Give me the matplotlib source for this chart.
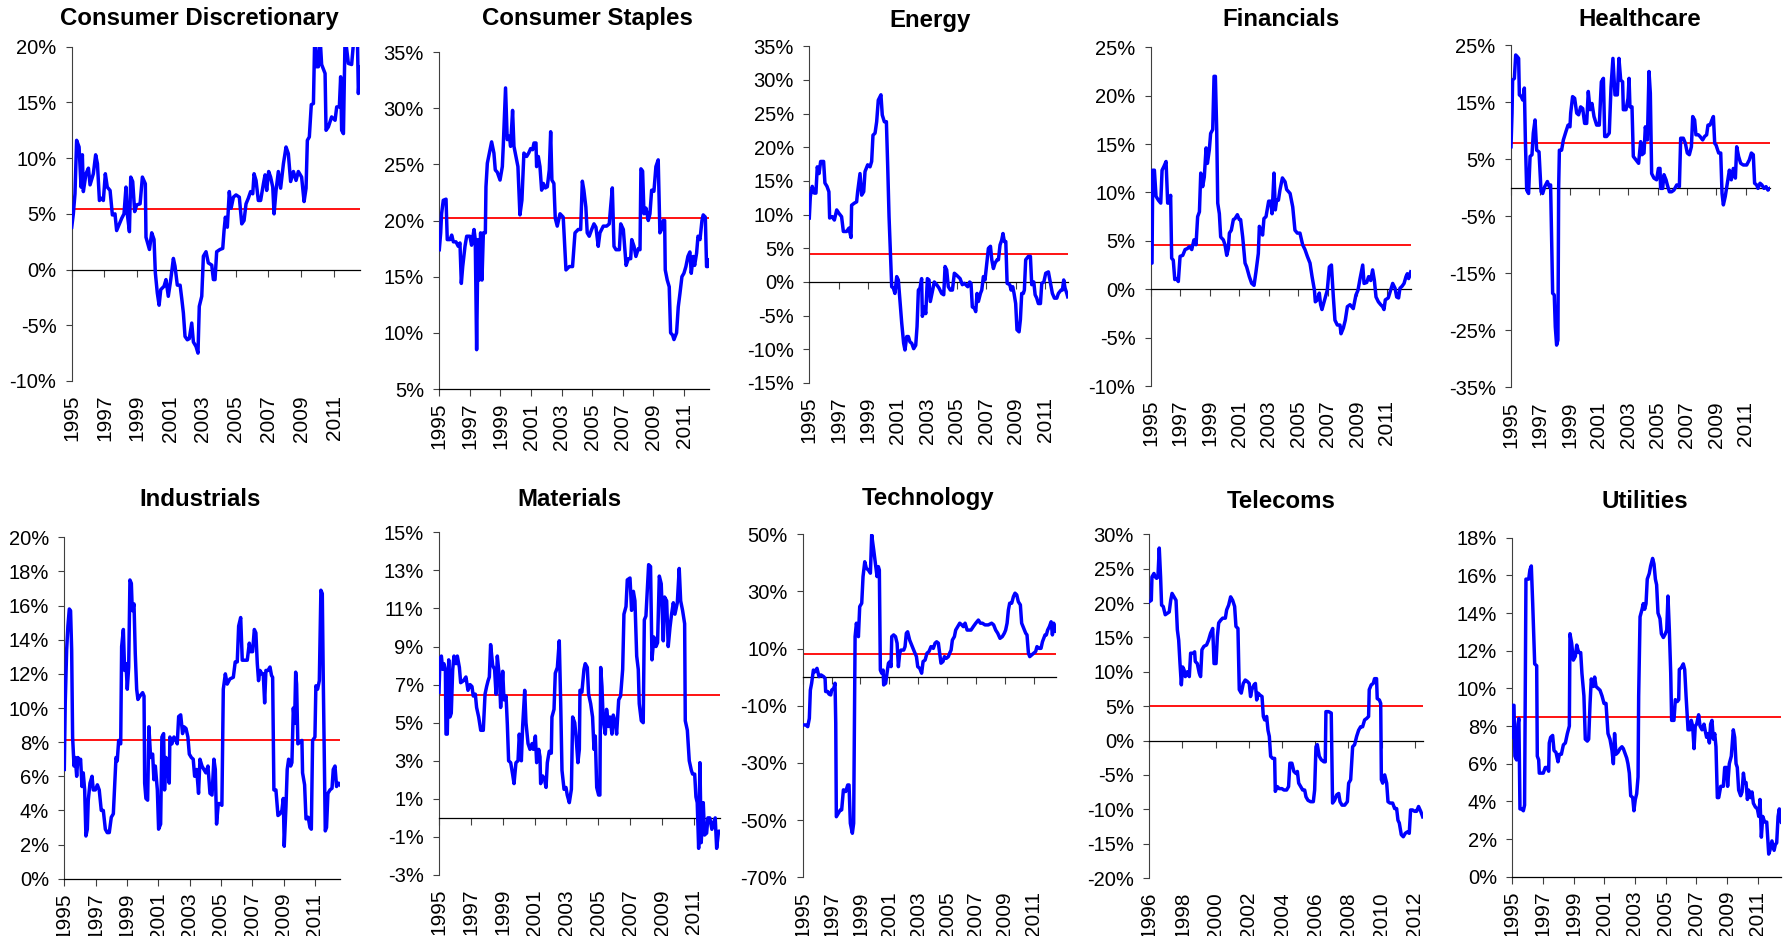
import numpy as np
import matplotlib
matplotlib.use("Agg")
from matplotlib import pyplot as plt
from matplotlib.ticker import FuncFormatter

plt.rcParams['font.family'] = ['Liberation Sans', 'DejaVu Sans']

# ---- data: time offsets (years from first year) and values (%) ----
cd_t = [0, 0.10, 0.20, 0.30, 0.45, 0.57, 0.65, 0.71, 0.87, 1.02, 1.12, 1.32, 1.46, 1.57, 1.69, 1.83, 1.93,
        2.05, 2.17, 2.34, 2.48, 2.64, 2.74, 2.91, 3.05, 3.19, 3.31, 3.39, 3.52, 3.60, 3.72, 3.84, 3.96,
        4.17, 4.31, 4.49, 4.53, 4.74, 4.88, 5.02, 5.10, 5.22, 5.33, 5.43, 5.63, 5.75, 5.89, 6.04, 6.20,
        6.30, 6.44, 6.61, 6.71, 6.81, 6.91, 7.05, 7.17, 7.32, 7.42, 7.58, 7.70, 7.78, 7.93, 8.03, 8.19,
        8.33, 8.54, 8.64, 8.74, 8.84, 9.04, 9.21, 9.29, 9.37, 9.49, 9.61, 9.72, 9.86, 10.02, 10.22, 10.37,
        10.51, 10.63, 10.77, 10.91, 11.04, 11.12, 11.24, 11.38, 11.52, 11.69, 11.79, 11.89, 12.01, 12.13,
        12.26, 12.34, 12.46, 12.60, 12.74, 12.91, 13.07, 13.21, 13.35, 13.52, 13.68, 13.82, 14.02, 14.17,
        14.29, 14.37, 14.49, 14.61, 14.74, 14.82, 14.94, 15.04, 15.14, 15.24, 15.45, 15.51, 15.65, 15.85,
        16.06, 16.16, 16.32, 16.40, 16.46, 16.57, 16.67, 16.87, 17.07, 17.22, 17.42, 17.48, 17.58]
cd_v = [3.8, 5.0, 6.8, 11.6, 11.0, 7.4, 10.3, 7.0, 8.6, 9.1, 7.6, 8.6, 10.3, 9.5, 6.2, 6.4, 6.2,
        8.6, 7.4, 7.1, 4.9, 5.0, 3.5, 4.1, 4.6, 5.0, 7.4, 5.0, 3.4, 8.3, 7.9, 5.2, 5.8,
        5.9, 8.3, 7.7, 2.9, 1.8, 3.3, 2.7, -0.3, -2.1, -3.2, -1.8, -1.5, -0.9, -2.4, -0.9, 1.0,
        0.3, -1.4, -1.4, -2.6, -3.9, -6.0, -6.3, -6.2, -4.8, -6.5, -6.9, -7.5, -3.3, -2.4, 1.2, 1.6,
        0.6, 0.4, -0.9, -0.9, 1.6, 1.8, 1.9, 3.5, 4.7, 3.8, 7.0, 5.5, 6.5, 6.7, 6.5, 4.1,
        4.4, 5.9, 6.4, 7.0, 6.8, 8.6, 8.0, 6.2, 6.2, 7.7, 8.5, 7.1, 8.8, 8.3,
        7.4, 5.0, 7.1, 8.8, 7.3, 9.5, 11.0, 10.4, 7.9, 8.8, 8.0, 8.8, 8.3, 6.1,
        7.3, 11.6, 11.9, 14.8, 14.9, 21.0, 18.2, 18.2, 21.0, 18.4, 17.6, 12.5, 12.8, 13.7,
        13.4, 14.6, 14.6, 17.3, 12.5, 12.2, 21.0, 18.5, 18.4, 21.0, 21.0, 15.8, 18.2]

cs_t = [0, 0.09, 0.15, 0.26, 0.44, 0.52, 0.70, 0.81, 0.92, 1.09, 1.24, 1.35, 1.44, 1.53, 1.68, 1.79, 2.00,
        2.11, 2.27, 2.35, 2.44, 2.53, 2.61, 2.70, 2.79, 2.88, 3.01, 3.05, 3.14, 3.27, 3.42, 3.57, 3.66,
        3.79, 3.97, 4.12, 4.18, 4.33, 4.44, 4.58, 4.66, 4.79, 4.88, 5.01, 5.14, 5.27, 5.40, 5.53, 5.71,
        5.84, 5.97, 6.10, 6.19, 6.32, 6.36, 6.47, 6.58, 6.69, 6.80, 6.93, 7.06, 7.19, 7.28, 7.36, 7.49,
        7.58, 7.71, 7.89, 8.10, 8.28, 8.50, 8.71, 8.87, 9.08, 9.24, 9.35, 9.45, 9.58, 9.67, 9.80, 9.96,
        10.11, 10.24, 10.39, 10.50, 10.72, 10.94, 11.11, 11.20, 11.31, 11.42, 11.55, 11.77, 11.86, 12.03,
        12.21, 12.36, 12.51, 12.58, 12.73, 12.85, 13.01, 13.12, 13.18, 13.29, 13.38, 13.51, 13.66, 13.77,
        13.88, 14.03, 14.16, 14.31, 14.42, 14.53, 14.64, 14.73, 14.77, 14.90, 15.03, 15.12, 15.25, 15.34,
        15.51, 15.62, 15.73, 15.86, 15.99, 16.12, 16.25, 16.38, 16.47, 16.60, 16.69, 16.82, 16.91, 17.04,
        17.17, 17.25, 17.39, 17.47, 17.56, 17.63]
cs_v = [17.4, 18.9, 20.6, 21.8, 21.9, 18.3, 18.3, 18.7, 18.1, 18.1, 17.7, 18.0, 14.4, 15.9, 17.7, 18.6, 18.6,
        17.8, 19.2, 18.3, 8.5, 18.3, 14.7, 18.9, 14.7, 18.9, 18.9, 23.0, 25.1, 26.0, 27.0, 26.0, 24.5,
        24.3, 23.6, 24.8, 26.6, 31.8, 27.2, 27.5, 26.6, 29.8, 26.6, 25.7, 24.8, 20.5, 21.8, 26.0, 25.7,
        26.0, 26.4, 26.3, 26.9, 26.9, 24.8, 25.7, 24.8, 22.7, 23.3, 22.9, 23.0, 24.5, 27.9, 23.6, 23.3,
        20.2, 19.5, 20.6, 20.3, 15.6, 15.9, 15.9, 18.9, 19.2, 19.2, 23.5, 22.7, 21.2, 18.9, 18.6, 19.2,
        19.7, 19.4, 17.7, 18.9, 19.5, 19.5, 19.7, 21.2, 22.9, 17.7, 17.4, 17.4, 19.7, 19.2,
        16.0, 16.6, 16.6, 18.3, 17.7, 16.8, 17.5, 17.4, 24.6, 24.4, 20.6, 21.1, 20.0, 20.6,
        22.7, 22.6, 24.8, 25.4, 18.9, 19.2, 20.0, 20.0, 15.6, 14.7, 14.1, 10.0, 9.8, 9.4,
        10.0, 12.3, 13.5, 15.0, 15.3, 15.9, 16.8, 17.2, 15.3, 16.8, 16.0, 17.1, 18.6, 18.3,
        20.0, 20.5, 20.3, 15.9, 15.9, 16.5]

en_t = [0, 0.07, 0.20, 0.34, 0.45, 0.54, 0.66, 0.77, 0.97, 1.06, 1.20, 1.33, 1.38, 1.56, 1.70, 1.86, 2.01,
        2.19, 2.31, 2.53, 2.69, 2.83, 2.87, 3.05, 3.21, 3.28, 3.44, 3.55, 3.69, 3.78, 3.96, 4.12, 4.23,
        4.32, 4.46, 4.57, 4.68, 4.86, 4.95, 5.09, 5.23, 5.32, 5.41, 5.50, 5.59, 5.70, 5.81, 5.93, 6.04,
        6.15, 6.27, 6.40, 6.49, 6.61, 6.72, 6.83, 6.95, 7.08, 7.22, 7.31, 7.40, 7.51, 7.62, 7.67, 7.81,
        7.90, 8.01, 8.12, 8.21, 8.35, 8.48, 8.64, 8.80, 8.98, 9.12, 9.21, 9.32, 9.43, 9.57, 9.71, 9.84,
        10.00, 10.23, 10.38, 10.52, 10.61, 10.75, 10.88, 10.97, 11.06, 11.20, 11.29, 11.38, 11.47, 11.61,
        11.70, 11.81, 11.92, 12.04, 12.15, 12.29, 12.38, 12.49, 12.60, 12.74, 12.83, 12.94, 13.05, 13.14,
        13.23, 13.33, 13.42, 13.60, 13.69, 13.80, 13.89, 14.00, 14.09, 14.23, 14.32, 14.41, 14.52, 14.59,
        14.68, 14.86, 15.00, 15.09, 15.23, 15.32, 15.43, 15.54, 15.68, 15.77, 15.91, 16.04, 16.22, 16.36,
        16.49, 16.63, 16.79, 16.90, 17.08, 17.17, 17.26, 17.35, 17.47, 17.53]
en_v = [9.5, 12.7, 14.2, 13.2, 13.2, 17.1, 16.1, 17.9, 17.9, 14.7, 14.2, 13.4, 9.5, 9.7, 9.2, 10.7, 10.2,
        9.7, 7.5, 7.5, 8.0, 6.6, 11.4, 11.7, 11.9, 13.4, 16.1, 12.9, 13.4, 16.4, 17.4, 17.1, 17.9,
        21.8, 22.1, 23.8, 27.0, 27.8, 24.8, 23.8, 23.8, 17.1, 9.7, 4.3, -0.7, -0.9, -1.7, 0.8, 0.3,
        -2.7, -6.1, -9.1, -10.1, -8.1, -8.1, -8.9, -9.1, -9.9, -9.4, -6.6, -1.2, -0.9, 0.5, -5.1, -3.7,
        -4.7, 0.5, 0.3, -2.9, -1.4, 0.0, -0.4, -0.9, -1.7, -1.9, 2.3, 1.8, -0.7, -1.2, -1.2, 1.3,
        1.0, 0.5, -0.4, -0.2, -0.4, -0.7, 0.0, -0.2, -3.7, -3.9, -4.4, -1.7, -2.9, -1.7,
        -1.2, 0.8, 0.3, 2.8, 5.0, 5.3, 3.3, 2.0, 2.8, 3.3, 3.3, 5.5, 6.2, 7.2,
        6.0, 6.0, -0.2, -0.4, -1.2, -0.7, -1.7, -3.2, -7.1, -7.4, -5.6, -1.7, -1.7, -1.2,
        3.3, 3.8, 3.8, -0.4, 0.0, -1.9, -2.4, -3.2, -3.2, -0.2, 0.0, 1.3, 1.5, -0.2,
        -1.7, -2.4, -2.4, -1.7, -1.2, -1.2, 0.3, -0.9, -1.7, -2.2]

fi_t = [0, 0.09, 0.14, 0.25, 0.36, 0.52, 0.68, 0.77, 0.90, 1.04, 1.15, 1.26, 1.35, 1.42, 1.53, 1.63, 1.76,
        1.87, 1.99, 2.17, 2.33, 2.48, 2.62, 2.78, 2.93, 3.07, 3.18, 3.30, 3.39, 3.52, 3.63, 3.75, 3.84,
        3.97, 4.06, 4.20, 4.29, 4.38, 4.47, 4.54, 4.65, 4.74, 4.92, 5.03, 5.15, 5.26, 5.33, 5.46, 5.60,
        5.71, 5.87, 6.00, 6.09, 6.23, 6.39, 6.50, 6.68, 6.84, 7.00, 7.13, 7.29, 7.36, 7.45, 7.58, 7.67,
        7.81, 7.99, 8.13, 8.22, 8.35, 8.44, 8.53, 8.65, 8.76, 8.92, 9.10, 9.21, 9.44, 9.62, 9.77, 9.93,
        10.11, 10.29, 10.45, 10.61, 10.79, 10.93, 11.09, 11.15, 11.29, 11.42, 11.51, 11.60, 11.74, 11.87,
        11.96, 12.10, 12.24, 12.37, 12.48, 12.64, 12.82, 12.89, 13.05, 13.18, 13.32, 13.50, 13.72, 13.90,
        14.04, 14.18, 14.36, 14.45, 14.63, 14.76, 14.90, 15.03, 15.15, 15.26, 15.42, 15.58, 15.71, 15.80,
        15.89, 16.09, 16.25, 16.39, 16.55, 16.66, 16.79, 16.88, 17.02, 17.16, 17.29, 17.38, 17.47, 17.61]
fi_v = [2.7, 2.7, 12.3, 12.3, 9.6, 9.2, 8.9, 12.3, 12.7, 13.2, 8.9, 8.9, 9.7, 3.2, 3.0, 1.0, 1.1,
        0.8, 3.4, 3.5, 4.1, 4.2, 4.4, 4.1, 5.1, 4.6, 7.5, 8.0, 12.0, 10.6, 11.6, 14.6, 13.0,
        14.4, 16.1, 16.5, 22.0, 22.0, 16.5, 8.9, 7.8, 5.4, 5.1, 4.6, 3.5, 4.2, 5.8, 6.1, 7.2,
        7.3, 7.7, 7.2, 7.2, 5.4, 2.7, 2.3, 1.3, 0.6, 0.4, 1.8, 3.7, 6.5, 6.1, 5.6, 7.3,
        7.5, 9.1, 9.1, 7.8, 12.0, 8.2, 9.2, 9.2, 10.3, 11.5, 11.1, 10.3, 9.9, 8.5, 6.1, 5.8,
        5.8, 4.6, 4.1, 3.4, 2.7, 1.3, -0.1, -1.3, -1.1, -0.4, -1.6, -2.1, -1.3, -0.6,
        -0.1, 2.3, 2.5, -0.8, -3.2, -3.7, -3.7, -4.6, -4.0, -3.2, -1.8, -1.6, -2.0, -0.6,
        -0.1, 1.1, 2.5, 0.6, 0.7, 1.3, 0.9, 2.0, 0.9, -0.8, -1.3, -1.6, -1.8, -2.1,
        -1.1, -0.9, -0.1, 0.6, 0.1, -0.8, -0.9, 0.1, 0.3, 0.6, 1.3, 1.6, 1.1, 1.8]

hc_t = [0, 0.07, 0.11, 0.23, 0.32, 0.43, 0.52, 0.57, 0.70, 0.80, 0.91, 0.98, 1.07, 1.20, 1.30, 1.43, 1.52,
        1.64, 1.75, 1.91, 2.05, 2.16, 2.30, 2.48, 2.61, 2.70, 2.84, 2.95, 3.02, 3.11, 3.20, 3.25, 3.30,
        3.45, 3.57, 3.75, 3.89, 4.02, 4.07, 4.20, 4.34, 4.48, 4.61, 4.75, 4.89, 5.02, 5.16, 5.27, 5.39,
        5.52, 5.66, 5.84, 6.02, 6.16, 6.30, 6.39, 6.52, 6.70, 6.82, 6.95, 7.09, 7.25, 7.36, 7.48, 7.61,
        7.66, 7.84, 7.98, 8.05, 8.11, 8.25, 8.34, 8.52, 8.70, 8.84, 8.93, 9.07, 9.16, 9.30, 9.41, 9.50,
        9.59, 9.75, 9.93, 10.05, 10.16, 10.20, 10.34, 10.43, 10.57, 10.66, 10.80, 10.95, 11.11, 11.30,
        11.48, 11.57, 11.75, 11.89, 12.02, 12.16, 12.30, 12.39, 12.52, 12.61, 12.77, 12.89, 13.07, 13.20,
        13.34, 13.43, 13.57, 13.70, 13.80, 13.89, 13.98, 14.16, 14.30, 14.39, 14.48, 14.61, 14.75, 14.89,
        15.02, 15.16, 15.30, 15.39, 15.52, 15.66, 15.84, 16.07, 16.25, 16.39, 16.52, 16.61, 16.75, 16.84,
        16.98, 17.11, 17.25, 17.39, 17.52, 17.66]
hc_v = [7.2, 13.1, 18.9, 19.2, 23.3, 23.0, 22.7, 16.3, 16.0, 15.4, 17.5, 8.4, -0.4, -1.0, 5.5, 5.8, 9.6,
        11.9, 6.6, 6.3, -0.7, -1.0, 0.2, 1.1, 0.2, 0.5, -18.5, -18.8, -24.4, -27.6, -26.7, 0.2, 6.6,
        6.6, 8.4, 9.9, 11.0, 10.7, 13.1, 16.0, 15.7, 13.1, 12.8, 14.2, 13.9, 11.3, 11.3, 16.9, 13.7,
        14.8, 12.5, 11.0, 11.0, 18.6, 19.2, 9.0, 9.0, 9.6, 17.7, 22.7, 16.3, 16.3, 22.7, 18.9, 18.6,
        13.7, 13.7, 15.7, 19.2, 14.2, 14.2, 5.5, 4.9, 4.3, 8.1, 5.8, 6.1, 10.7, 8.4, 20.4, 16.6,
        2.5, 1.7, 1.4, 3.4, 3.4, -0.1, -0.1, 2.3, 1.4, 0.5, -0.7, -0.7, -0.4, 0.5,
        0.2, 8.7, 8.7, 7.8, 6.1, 5.8, 7.2, 12.5, 11.9, 9.3, 9.3, 9.0, 8.4, 9.0,
        9.3, 11.0, 11.0, 11.9, 12.5, 7.8, 7.5, 6.1, 6.1, -1.0, -3.0, -1.5, 0.8, 3.1,
        1.4, 3.4, 1.7, 7.2, 5.5, 4.3, 4.0, 4.0, 4.9, 6.1, 5.8, 0.8, 0.5, -0.1,
        0.8, 0.5, -0.1, 0.2, -0.4, -0.1]

in_t = [0, 0.06, 0.15, 0.23, 0.32, 0.40, 0.47, 0.53, 0.62, 0.70, 0.79, 0.87, 0.96, 1.04, 1.13, 1.21, 1.30,
        1.38, 1.47, 1.53, 1.64, 1.77, 1.85, 1.98, 2.11, 2.23, 2.36, 2.49, 2.62, 2.74, 2.87, 3.00, 3.13,
        3.21, 3.30, 3.38, 3.47, 3.60, 3.66, 3.77, 3.85, 3.94, 4.02, 4.11, 4.19, 4.28, 4.34, 4.45, 4.53,
        4.62, 4.70, 4.83, 5.00, 5.09, 5.13, 5.21, 5.32, 5.40, 5.51, 5.64, 5.72, 5.81, 5.94, 6.02, 6.15,
        6.23, 6.34, 6.40, 6.49, 6.60, 6.70, 6.74, 6.87, 7.00, 7.13, 7.21, 7.30, 7.43, 7.55, 7.64, 7.77,
        7.89, 7.98, 8.11, 8.23, 8.32, 8.45, 8.57, 8.66, 8.79, 8.91, 9.04, 9.17, 9.30, 9.43, 9.55, 9.64,
        9.72, 9.83, 9.94, 10.06, 10.15, 10.28, 10.40, 10.57, 10.79, 10.91, 11.04, 11.13, 11.26, 11.36,
        11.51, 11.68, 11.81, 11.89, 12.02, 12.13, 12.23, 12.32, 12.40, 12.49, 12.62, 12.70, 12.79, 12.87,
        13.00, 13.13, 13.23, 13.30, 13.34, 13.38, 13.51, 13.64, 13.77, 13.89, 13.98, 14.04, 14.15, 14.23,
        14.32, 14.45, 14.53, 14.62, 14.70, 14.77, 14.83, 14.91, 15.04, 15.17, 15.21, 15.34, 15.43, 15.57,
        15.68, 15.77, 15.85, 16.00, 16.06, 16.17, 16.28, 16.38, 16.47, 16.53, 16.66, 16.74, 16.83, 16.96,
        17.09, 17.17, 17.28, 17.38, 17.51, 17.60]
in_v = [6.4, 10.3, 13.4, 14.8, 15.8, 15.7, 13.4, 8.3, 6.6, 7.1, 6.0, 7.1, 6.8, 7.0, 5.4, 6.2, 5.2,
        2.5, 2.9, 4.6, 5.6, 6.0, 5.2, 5.2, 5.5, 5.2, 4.0, 4.0, 2.9, 2.7, 2.7, 3.6, 3.8,
        5.4, 7.1, 6.9, 8.1, 7.9, 13.6, 14.6, 12.2, 12.6, 11.1, 12.4, 17.5, 17.3, 15.7, 16.1, 13.2,
        11.1, 10.5, 10.7, 10.9, 10.7, 5.6, 4.7, 4.6, 8.9, 7.1, 7.3, 5.8, 6.6, 5.2, 2.9, 3.2,
        8.3, 8.5, 5.2, 7.1, 6.4, 5.6, 8.3, 7.9, 8.3, 8.1, 7.9, 9.5, 9.6, 8.5, 8.9, 8.8,
        8.3, 7.3, 7.1, 7.0, 6.0, 6.4, 5.0, 7.0, 6.6, 6.4, 6.2, 6.6, 5.0, 4.9, 7.0, 6.4,
        3.2, 4.4, 4.4, 4.3, 11.1, 12.0, 11.4, 11.7, 11.8, 12.7, 12.7, 14.8, 15.3, 12.8,
        12.8, 12.8, 13.8, 13.3, 13.3, 14.6, 14.4, 12.6, 11.6, 12.2, 12.0, 12.0, 10.3, 12.2,
        12.2, 12.4, 11.9, 11.8, 8.3, 5.2, 5.2, 3.7, 3.8, 4.0, 4.7, 1.9, 4.2, 6.4,
        7.0, 6.6, 6.8, 10.0, 9.1, 12.1, 11.4, 7.9, 8.0, 8.1, 6.2, 5.5, 3.5, 3.6,
        3.0, 2.9, 8.1, 8.3, 11.3, 11.1, 11.6, 16.9, 16.7, 11.8, 2.8, 3.0, 5.0, 5.2,
        5.3, 6.4, 6.6, 5.4, 5.6, 5.5]

ma_t = [0, 0.06, 0.15, 0.23, 0.31, 0.40, 0.44, 0.52, 0.61, 0.69, 0.77, 0.86, 0.94, 1.07, 1.15, 1.28, 1.36,
        1.53, 1.69, 1.82, 1.95, 2.07, 2.15, 2.28, 2.36, 2.49, 2.62, 2.78, 2.89, 2.99, 3.08, 3.16, 3.24,
        3.37, 3.49, 3.58, 3.66, 3.79, 3.87, 4.00, 4.08, 4.21, 4.29, 4.37, 4.50, 4.62, 4.71, 4.83, 4.96,
        5.04, 5.17, 5.25, 5.38, 5.46, 5.59, 5.71, 5.84, 5.92, 6.05, 6.13, 6.26, 6.34, 6.38, 6.51, 6.63,
        6.72, 6.80, 6.92, 7.05, 7.09, 7.22, 7.30, 7.43, 7.55, 7.64, 7.72, 7.85, 7.97, 8.05, 8.18, 8.31,
        8.39, 8.52, 8.60, 8.72, 8.81, 8.85, 8.97, 9.10, 9.18, 9.31, 9.39, 9.52, 9.64, 9.73, 9.81, 9.90,
        10.02, 10.10, 10.15, 10.23, 10.31, 10.44, 10.52, 10.65, 10.73, 10.86, 10.94, 11.07, 11.15, 11.28,
        11.40, 11.53, 11.61, 11.74, 11.82, 11.99, 12.09, 12.20, 12.30, 12.41, 12.51, 12.57, 12.70, 12.82,
        12.89, 12.99, 13.16, 13.28, 13.37, 13.49, 13.62, 13.72, 13.83, 13.95, 14.08, 14.16, 14.29, 14.39,
        14.50, 14.60, 14.71, 14.81, 14.96, 15.08, 15.17, 15.29, 15.42, 15.46, 15.59, 15.71, 15.84, 15.92,
        16.05, 16.13, 16.21, 16.30, 16.38, 16.46, 16.59, 16.67, 16.80, 16.88, 17.00, 17.13, 17.22, 17.34,
        17.43, 17.55, 17.64]
ma_v = [6.6, 8.3, 8.5, 7.8, 8.1, 7.8, 4.4, 4.4, 8.3, 5.3, 5.5, 7.8, 8.5, 8.1, 8.5, 7.9, 7.1,
        7.2, 7.4, 6.7, 7.0, 6.9, 6.4, 6.5, 5.8, 5.3, 4.6, 4.6, 6.5, 6.9, 7.2, 7.4, 9.1,
        8.0, 7.8, 6.5, 8.5, 7.4, 5.8, 7.7, 6.2, 6.4, 4.9, 3.0, 2.9, 2.3, 1.8, 2.9, 3.0,
        4.4, 3.0, 4.8, 6.7, 5.0, 3.9, 3.6, 3.9, 3.6, 4.3, 2.9, 3.6, 3.2, 1.8, 2.2, 2.0,
        1.6, 2.9, 3.5, 3.4, 5.3, 5.7, 7.6, 7.9, 9.3, 6.0, 2.5, 1.5, 1.6, 1.2, 0.8, 1.5,
        5.3, 5.0, 4.3, 2.9, 3.6, 6.7, 6.6, 7.8, 8.1, 7.9, 6.5, 6.0, 5.3, 3.6, 4.3, 1.6,
        1.2, 1.2, 7.9, 6.9, 5.1, 4.4, 5.7, 4.8, 5.3, 4.4, 5.4, 5.0, 4.4, 6.2,
        6.4, 7.8, 10.7, 11.1, 12.5, 12.6, 10.9, 11.9, 11.4, 8.5, 7.8, 6.0, 5.1, 5.0,
        10.4, 10.6, 13.3, 13.2, 8.3, 9.5, 9.0, 9.2, 12.7, 12.3, 9.3, 11.6, 11.4, 9.0,
        10.0, 10.7, 11.3, 10.7, 11.3, 13.1, 11.4, 10.9, 10.2, 5.1, 4.6, 3.0, 2.5, 2.3,
        2.3, 1.1, 0.8, -1.6, 2.9, -1.3, 0.8, -0.9, -0.8, 0.0, 0.0, -0.6, -0.3, 0.0,
        -1.6, -0.7, -0.7]

te_t = [0, 0.21, 0.35, 0.46, 0.53, 0.62, 0.74, 0.85, 0.99, 1.13, 1.27, 1.45, 1.55, 1.59, 1.73, 1.82, 1.94,
        2.01, 2.15, 2.24, 2.29, 2.33, 2.47, 2.61, 2.70, 2.82, 2.98, 3.12, 3.21, 3.30, 3.44, 3.53, 3.58,
        3.63, 3.72, 3.86, 3.95, 4.09, 4.18, 4.30, 4.41, 4.55, 4.69, 4.78, 4.92, 5.06, 5.15, 5.24, 5.31,
        5.38, 5.47, 5.57, 5.61, 5.75, 5.84, 5.94, 6.05, 6.12, 6.17, 6.30, 6.43, 6.54, 6.63, 6.72, 6.81,
        7.00, 7.09, 7.18, 7.27, 7.41, 7.55, 7.69, 7.78, 7.88, 7.97, 8.11, 8.24, 8.34, 8.48, 8.61, 8.75,
        8.89, 9.05, 9.17, 9.28, 9.40, 9.52, 9.58, 9.72, 9.82, 9.95, 10.09, 10.18, 10.28, 10.37, 10.51,
        10.60, 10.74, 10.88, 11.02, 11.13, 11.25, 11.39, 11.52, 11.66, 11.82, 11.99, 12.17, 12.31, 12.45,
        12.63, 12.86, 13.09, 13.23, 13.37, 13.51, 13.67, 13.83, 13.97, 14.06, 14.16, 14.25, 14.34, 14.48,
        14.60, 14.71, 14.83, 14.94, 15.08, 15.17, 15.31, 15.45, 15.54, 15.64, 15.73, 15.87, 16.00, 16.14,
        16.23, 16.37, 16.51, 16.61, 16.70, 16.79, 16.88, 16.97, 17.09, 17.21, 17.30, 17.39, 17.48, 17.57]
te_v = [-16.7, -16.7, -17.3, -14.4, -4.5, -2.1, 2.5, 1.9, 3.1, 0.2, 0.8, 0.2, -0.4, -5.0, -5.0, -5.9, -6.2,
        -4.5, -3.9, -2.1, -16.1, -48.8, -47.6, -46.4, -46.4, -39.4, -40.0, -37.7, -37.7, -51.1, -54.6, -51.1, -18.5,
        14.2, 18.9, 14.2, 24.7, 25.9, 35.2, 40.4, 38.1, 37.5, 36.4, 49.8, 44.5, 38.7, 35.2, 38.7, 37.5,
        2.5, 1.4, 2.5, -2.7, -2.1, 1.4, 4.9, 5.5, 3.7, 14.2, 14.8, 14.2, 11.9, 3.7, 8.4, 9.5,
        9.5, 10.7, 15.4, 15.9, 13.0, 11.3, 9.5, 8.4, 7.2, 3.7, 3.1, 1.4, 5.5, 6.0, 8.4, 9.0,
        10.7, 10.1, 11.9, 12.4, 11.9, 7.2, 4.9, 5.5, 7.2, 6.6, 7.2, 8.4, 9.5, 13.0, 14.2,
        16.5, 17.7, 18.9, 18.3, 17.7, 18.9, 16.5, 16.5, 16.5, 17.7, 18.9, 20.0, 18.9, 18.9,
        18.3, 18.3, 18.9, 18.3, 16.5, 15.4, 13.6, 14.2, 15.4, 16.5, 18.9, 23.5, 25.9, 25.9,
        28.2, 29.4, 28.8, 26.4, 25.3, 18.9, 17.1, 15.4, 14.8, 8.4, 7.2, 7.8, 8.4, 9.0,
        10.7, 10.1, 10.1, 12.4, 13.6, 14.8, 14.8, 16.5, 17.7, 19.4, 14.8, 18.9, 16.0, 16.2]

tc_t = [0, 0.12, 0.16, 0.28, 0.36, 0.44, 0.52, 0.60, 0.68, 0.74, 0.84, 0.96, 1.08, 1.20, 1.29, 1.37, 1.49,
        1.61, 1.69, 1.77, 1.85, 1.93, 2.01, 2.09, 2.17, 2.29, 2.41, 2.49, 2.65, 2.73, 2.77, 2.89, 3.01,
        3.09, 3.17, 3.29, 3.45, 3.57, 3.69, 3.82, 3.90, 4.02, 4.10, 4.18, 4.30, 4.42, 4.58, 4.66, 4.78,
        4.90, 5.02, 5.14, 5.22, 5.34, 5.42, 5.54, 5.66, 5.78, 5.90, 6.02, 6.10, 6.18, 6.31, 6.39, 6.47,
        6.55, 6.67, 6.79, 6.87, 6.95, 7.07, 7.15, 7.23, 7.31, 7.43, 7.55, 7.59, 7.71, 7.83, 7.99, 8.11,
        8.27, 8.39, 8.47, 8.59, 8.71, 8.84, 8.92, 9.00, 9.12, 9.24, 9.36, 9.44, 9.56, 9.72, 9.88, 9.96,
        10.04, 10.12, 10.24, 10.36, 10.52, 10.60, 10.64, 10.80, 10.96, 11.04, 11.16, 11.29, 11.41, 11.49,
        11.61, 11.77, 11.93, 12.01, 12.13, 12.25, 12.37, 12.49, 12.61, 12.73, 12.85, 12.97, 13.09, 13.21,
        13.25, 13.37, 13.49, 13.57, 13.69, 13.73, 13.86, 13.94, 13.98, 14.06, 14.18, 14.30, 14.38, 14.50,
        14.66, 14.78, 14.90, 14.98, 15.06, 15.18, 15.30, 15.42, 15.54, 15.66, 15.74, 15.86, 15.98, 16.10,
        16.22, 16.35, 16.47]
tc_v = [20.2, 20.4, 23.8, 24.3, 23.8, 23.6, 23.8, 28.0, 23.8, 19.7, 19.5, 18.3, 18.5, 18.7, 20.4, 21.4, 20.9,
        20.4, 16.1, 14.6, 11.2, 8.1, 10.7, 10.3, 9.3, 10.0, 9.3, 12.7, 12.7, 12.9, 11.5, 11.2, 9.8,
        9.3, 13.2, 13.7, 13.9, 14.6, 15.6, 16.3, 11.2, 11.2, 15.1, 17.1, 17.5, 17.8, 17.8, 19.0, 19.7,
        20.9, 20.4, 19.5, 16.6, 16.3, 7.4, 6.9, 8.3, 8.8, 8.6, 8.3, 6.4, 7.4, 8.1, 8.3, 5.9,
        6.9, 6.6, 6.4, 3.5, 3.0, 3.5, 1.5, 0.6, -2.3, -2.6, -2.6, -7.4, -6.7, -7.0, -7.0, -7.2,
        -7.2, -6.7, -3.3, -3.3, -4.5, -4.8, -4.5, -6.2, -6.7, -7.2, -7.2, -8.2, -8.7, -8.9, -8.9, -7.2,
        -0.9, -0.6, -2.3, -2.8, -3.1, -3.1, 4.2, 4.2, 4.0, -9.1, -8.7, -7.9, -7.7, -8.9,
        -9.4, -9.4, -8.9, -6.2, -5.7, -0.9, -0.6, 0.6, 1.5, 2.0, 2.0, 3.0, 3.2, 3.5,
        7.4, 8.1, 8.3, 9.0, 9.0, 6.1, 5.9, 5.4, -5.7, -6.2, -5.0, -6.2, -8.9, -9.1,
        -9.1, -9.9, -9.9, -11.6, -12.0, -13.7, -14.0, -13.5, -13.3, -13.5, -10.1, -10.1, -10.3, -10.3,
        -9.6, -10.3, -11.1]

ut_t = [0, 0.04, 0.11, 0.17, 0.28, 0.37, 0.43, 0.50, 0.61, 0.72, 0.80, 0.85, 0.89, 1.07, 1.15, 1.24, 1.33,
        1.46, 1.59, 1.63, 1.72, 1.76, 1.89, 2.02, 2.15, 2.28, 2.37, 2.41, 2.50, 2.63, 2.72, 2.85, 2.98,
        3.07, 3.20, 3.33, 3.46, 3.59, 3.72, 3.76, 3.87, 3.98, 4.11, 4.20, 4.33, 4.46, 4.54, 4.67, 4.76,
        4.89, 4.98, 5.07, 5.15, 5.28, 5.37, 5.46, 5.59, 5.72, 5.85, 5.98, 6.11, 6.24, 6.37, 6.50, 6.59,
        6.67, 6.76, 6.89, 7.02, 7.15, 7.24, 7.37, 7.46, 7.54, 7.63, 7.72, 7.85, 7.93, 8.02, 8.11, 8.20,
        8.24, 8.33, 8.46, 8.54, 8.63, 8.72, 8.80, 8.93, 9.02, 9.15, 9.24, 9.33, 9.41, 9.50, 9.63, 9.72,
        9.85, 9.98, 10.07, 10.15, 10.24, 10.33, 10.39, 10.54, 10.63, 10.76, 10.85, 10.89, 11.02, 11.15,
        11.24, 11.33, 11.46, 11.59, 11.67, 11.76, 11.85, 11.93, 12.02, 12.15, 12.24, 12.37, 12.50, 12.59,
        12.67, 12.76, 12.85, 12.93, 13.02, 13.11, 13.20, 13.28, 13.37, 13.46, 13.59, 13.76, 13.85, 13.98,
        14.04, 14.15, 14.28, 14.41, 14.50, 14.59, 14.67, 14.76, 14.89, 14.98, 15.07, 15.15, 15.24, 15.33,
        15.41, 15.54, 15.63, 15.72, 15.85, 15.98, 16.07, 16.15, 16.24, 16.33, 16.46, 16.59, 16.72, 16.80,
        16.93, 17.07, 17.15, 17.24, 17.33, 17.41, 17.50, 17.54]
ut_v = [7.4, 9.1, 9.1, 6.4, 6.2, 8.1, 8.4, 3.6, 3.6, 3.5, 3.8, 11.0, 15.8, 15.8, 16.3, 16.5, 14.5,
        11.3, 11.2, 6.4, 6.2, 5.5, 5.5, 5.5, 5.8, 5.8, 5.6, 7.1, 7.4, 7.5, 6.7, 6.6, 6.1,
        6.5, 6.5, 7.0, 7.1, 7.6, 8.0, 12.9, 12.4, 11.5, 11.7, 12.3, 11.9, 11.9, 10.8, 9.6, 7.3,
        7.2, 7.3, 9.2, 10.5, 10.1, 10.6, 10.1, 10.0, 9.9, 9.6, 9.2, 9.2, 7.6, 7.3, 6.7, 6.0,
        7.6, 6.5, 6.6, 6.8, 6.9, 6.8, 6.5, 6.3, 6.0, 5.5, 4.3, 4.2, 3.5, 4.1, 4.4, 5.3,
        9.6, 13.8, 14.2, 14.5, 14.2, 14.5, 15.8, 16.1, 16.5, 16.9, 16.6, 15.8, 15.5, 14.0, 13.7, 12.9,
        12.7, 12.9, 13.1, 14.9, 13.1, 10.8, 8.3, 8.3, 9.4, 9.3, 9.4, 11.0, 11.1, 11.3,
        11.0, 9.6, 7.8, 7.8, 8.3, 8.0, 6.8, 8.0, 8.1, 8.6, 8.0, 7.8, 8.1, 7.7,
        7.4, 7.6, 7.1, 8.1, 8.3, 7.3, 7.6, 6.9, 4.2, 4.2, 4.8, 4.8, 5.8, 5.8,
        4.8, 6.0, 6.4, 7.8, 7.4, 6.0, 5.8, 4.6, 4.3, 4.5, 5.5, 5.0, 5.0, 4.1,
        4.6, 4.2, 4.5, 3.9, 3.7, 3.6, 3.2, 4.1, 2.1, 3.2, 2.9, 2.9, 1.2, 1.4,
        1.9, 1.4, 1.7, 1.8, 3.2, 3.6, 3.0, 2.9]

titles = ["Consumer Discretionary", "Consumer Staples", "Energy", "Financials", "Healthcare",
          "Industrials", "Materials", "Technology", "Telecoms", "Utilities"]
start_years = [1995, 1995, 1995, 1995, 1995, 1995, 1995, 1995, 1996, 1995]
series_t = [cd_t, cs_t, en_t, fi_t, hc_t, in_t, ma_t, te_t, tc_t, ut_t]
series_v = [cd_v, cs_v, en_v, fi_v, hc_v, in_v, ma_v, te_v, tc_v, ut_v]
means = [5.4, 20.2, 4.2, 4.6, 7.8, 8.1, 6.45, 8.1, 5.0, 8.5]
y_ranges = [(-10, 20, 5), (5, 35, 5), (-15, 35, 5), (-10, 25, 5), (-35, 25, 10),
            (0, 20, 2), (-3, 15, 2), (-70, 50, 20), (-20, 30, 5), (0, 18, 2)]

# ---- layout (pixels in a 1789 x 936 canvas) ----
W, H = 1789, 936
boxes = [(71.7, 46.7, 360, 381), (439.3, 52, 709, 389), (809.3, 46.3, 1067.7, 383),
         (1150.7, 47.3, 1410.7, 386), (1511, 45.3, 1770, 387.3),
         (64.3, 537.3, 340, 878.7), (439, 532.3, 720, 875), (802.7, 534.3, 1056.3, 877.3),
         (1149.3, 534.3, 1422.7, 878), (1512.3, 537.7, 1781.3, 876.7)]
title_pos = [(199, 25), (587, 25), (930, 27), (1281, 26), (1640, 26),
             (200, 506), (569, 506), (928, 505), (1281, 508), (1645, 508)]

fig = plt.figure(figsize=(W / 100, H / 100), dpi=100)
pct = FuncFormatter(lambda v, p: f'{v:.0f}%')

for i in range(10):
    l, top, r, b = boxes[i]
    ax = fig.add_axes([l / W, 1 - b / H, (r - l) / W, (b - top) / H])
    start = start_years[i]
    x = start + np.array(series_t[i])
    lo, hi, step = y_ranges[i]

    ax.plot(x, series_v[i], color='#0000ff', lw=2.5, solid_joinstyle='round', zorder=3)
    ax.axhline(means[i], color='#ff0000', lw=1.3, zorder=2)

    ax.set_xlim(start, x[-1])
    ax.set_ylim(lo, hi)
    ax.set_yticks(np.arange(lo, hi + 0.01, step))
    ax.yaxis.set_major_formatter(pct)

    ax.spines['top'].set_visible(False)
    ax.spines['right'].set_visible(False)
    ax.spines['left'].set_color('#404040')
    ax.spines['bottom'].set_position(('data', max(0, lo)))
    ax.spines['bottom'].set_color('black')
    ax.spines['bottom'].set_linewidth(0.9)

    xt = np.arange(start, x[-1] + 0.01, 2)
    ax.set_xticks(xt)
    ax.tick_params(axis='x', direction='out', length=5, labelbottom=False, color='#404040')
    ax.tick_params(axis='y', direction='out', length=4, labelsize=14.5, pad=7, color='#404040')

    sec = ax.secondary_xaxis('bottom')
    sec.set_xticks(xt, [str(int(y)) for y in xt])
    sec.tick_params(length=0, labelsize=15, rotation=90, pad=10)
    sec.spines['bottom'].set_visible(False)

    tx, ty = title_pos[i]
    fig.text(tx / W, 1 - ty / H, titles[i], ha='center', va='baseline',
             fontsize=17.3, fontweight='bold')

fig.savefig('out.png', dpi=100)
